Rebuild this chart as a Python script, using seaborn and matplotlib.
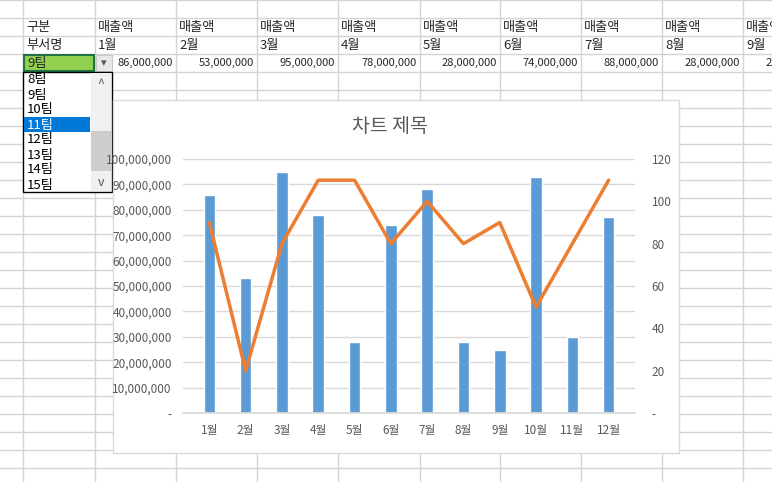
import matplotlib
matplotlib.use("Agg")
import matplotlib.pyplot as plt
import seaborn as sns
import pandas as pd
from matplotlib.patches import Rectangle

months = ["1월","2월","3월","4월","5월","6월","7월","8월","9월","10월","11월","12월"]
sales = [86000000,53000000,95000000,78000000,28000000,74000000,88000000,28000000,25000000,93000000,30000000,77000000]
line_vals = [90,20,80,110,110,80,100,80,90,50,80,110]
teams = ["8팀","9팀","10팀","11팀","12팀","13팀","14팀","15팀"]
title = "차트 제목"

sns.set_theme(style="white")
plt.rcParams['font.family'] = ['Noto Sans CJK KR', 'DejaVu Sans']
W, H = 772, 482
fig = plt.figure(figsize=(W/100, H/100), dpi=100)
bg = fig.add_axes([0, 0, 1, 1])
bg.set_xlim(0, W); bg.set_ylim(H, 0); bg.axis('off')

cols = [23, 95, 176, 257, 338, 420, 500, 581, 662, 743, 824]
grid_c = '#D4D4D4'
for x in cols:
    bg.plot([x, x], [0, H], color=grid_c, lw=1)
for y in range(0, H, 18):
    bg.plot([0, W], [y, y], color=grid_c, lw=1)
fs = 9.5
bg.text(26, 27, "구분", fontsize=fs, va='center')
bg.text(26, 45, "부서명", fontsize=fs, va='center')
for i in range(9):
    bg.text(cols[i+1]+3, 27, "매출액", fontsize=fs, va='center', clip_on=True)
    bg.text(cols[i+1]+3, 45, months[i], fontsize=fs, va='center', clip_on=True)
    bg.text(cols[i+2]-3, 63, f"{sales[i]:,}", fontsize=8, va='center', ha='right', clip_on=True)

# selected cell
bg.add_patch(Rectangle((23, 54), 72, 18, facecolor='white', edgecolor='none', zorder=3))
bg.add_patch(Rectangle((24, 55), 70, 16, facecolor='#92D050', edgecolor='#217346', lw=1.5, zorder=4))
bg.text(27, 63, "9팀", fontsize=fs, va='center', zorder=5)
bg.add_patch(Rectangle((96, 55), 16, 16, facecolor='#E8E8E8', edgecolor='#C8C8C8', lw=0.8, zorder=4))
bg.text(104, 63, "▾", fontsize=8, va='center', ha='center', color='#555555', zorder=5)

# dropdown list
bg.add_patch(Rectangle((23, 72), 89, 120, facecolor='white', edgecolor='black', lw=1, zorder=6))
bg.add_patch(Rectangle((24, 117), 66, 15, facecolor='#0078D7', edgecolor='none', zorder=7))
bg.add_patch(Rectangle((91, 73), 20, 118, facecolor='#F0F0F0', edgecolor='none', zorder=7))
bg.add_patch(Rectangle((91, 131), 20, 40, facecolor='#CDCDCD', edgecolor='none', zorder=8))
bg.text(101, 84, "^", fontsize=9, ha='center', va='center', color='#555555', zorder=9)
bg.text(101, 182, "v", fontsize=9, ha='center', va='center', color='#555555', zorder=9)
for i, t in enumerate(teams):
    bg.text(27, 80 + i*15, t, fontsize=fs, va='center', zorder=9,
            color='white' if t == "11팀" else 'black')

# chart area
bg.add_patch(Rectangle((113, 100), 566, 353, facecolor='white', edgecolor='#D9D9D9', lw=1, zorder=10))
bg.text(390, 127, title, fontsize=14, ha='center', va='center', color='#595959', zorder=11)

ax = fig.add_axes([183/W, (H-413)/H, (635-183)/W, (413-159)/H], zorder=20)
ax.patch.set_alpha(0)
df = pd.DataFrame({"month": months, "sales": sales, "val": line_vals})
sns.barplot(data=df, x="month", y="sales", color='#5B9BD5', saturation=1, width=0.32, ax=ax)
ax.set_ylim(0, 100000000)
ax.set_yticks(range(0, 100000001, 10000000))
ax.set_yticklabels(["-"] + [f"{v:,}" for v in range(10000000, 100000001, 10000000)])
ax.yaxis.grid(True, color='#D9D9D9', lw=1)
ax.set_axisbelow(True)
for s in ax.spines.values():
    s.set_visible(False)
ax.spines['bottom'].set_visible(True); ax.spines['bottom'].set_color('#D9D9D9')
ax.set_xlabel(""); ax.set_ylabel("")
ax.tick_params(colors='#595959', labelsize=8.5, length=0, pad=8)

ax2 = ax.twinx()
sns.lineplot(data=df, x="month", y="val", color='#ED7D31', lw=2.5, ax=ax2, sort=False)
ax2.set_ylim(0, 120)
ax2.set_yticks(range(0, 121, 20))
ax2.set_yticklabels(["-"] + [str(v) for v in range(20, 121, 20)])
for s in ax2.spines.values():
    s.set_visible(False)
ax2.set_ylabel("")
ax2.tick_params(colors='#595959', labelsize=8.5, length=0, pad=12)

fig.savefig("out.png", dpi=100)
